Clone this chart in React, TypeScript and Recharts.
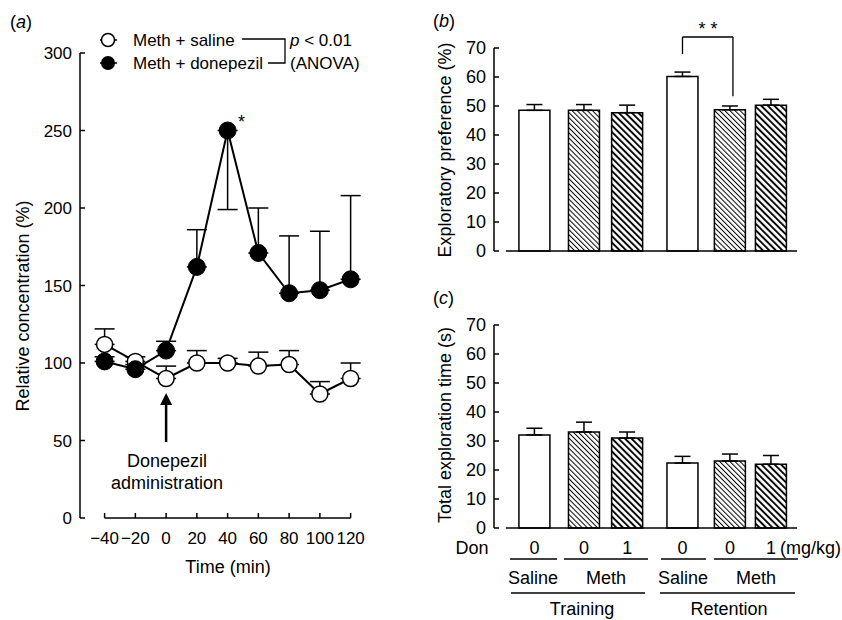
import React from 'react';
import { Bar, BarChart, Cell, ErrorBar, Line, LineChart, ReferenceDot, ReferenceLine, XAxis, YAxis } from 'recharts';

const FONT = '"Liberation Sans", Arial, Helvetica, sans-serif';
const FS = 18;
const TICK_FS = 17;

// (a) time course
const times = [-40, -20, 0, 20, 40, 60, 80, 100, 120];
const salineMean = [112, 101, 90, 100, 100, 98, 99, 80, 90];
const salineErrUp = [10, 3, 8, 8, 3, 9, 9, 8, 10];
const donepezilMean = [101, 96, 108, 162, 250, 171, 145, 147, 154];
const donepezilErrUp = [3, 3, 6, 24, 0, 29, 37, 38, 54];
const donepezilErrDown = [0, 0, 0, 0, 51, 0, 0, 0, 0];
const concTicks = [0, 50, 100, 150, 200, 250, 300];
const seriesNames = ['Meth + saline', 'Meth + donepezil'];

// (b), (c) bars
const barGroups = ['Saline', 'Meth', 'Meth', 'Saline', 'Meth', 'Meth'];
const barDoses = ['0', '0', '1', '0', '0', '1'];
const prefMean = [48.5, 48.5, 47.7, 60.2, 48.7, 50.3];
const prefErr = [2.0, 2.0, 2.6, 1.5, 1.3, 2.0];
const exploreMean = [32.1, 33.1, 31.0, 22.4, 23.1, 22.0];
const exploreErr = [2.3, 3.4, 2.1, 2.3, 2.4, 3.0];
const barTicks = [0, 10, 20, 30, 40, 50, 60, 70];

// layout: where each bar sits on the 0..10 x range
const slots = [1.33, 2.96, 4.38, 6.2, 7.76, 9.11];

const lineData = times.map((t, i) => ({
  t,
  sal: salineMean[i],
  salErr: [0, salineErrUp[i]],
  don: donepezilMean[i],
  donErr: [donepezilErrDown[i], donepezilErrUp[i]],
}));

const prefData = slots.map((pos, i) => ({ pos, v: prefMean[i], e: [0, prefErr[i]] }));
const exploreData = slots.map((pos, i) => ({ pos, v: exploreMean[i], e: [0, exploreErr[i]] }));

const barFill = (i: number) =>
  barGroups[i] === 'Saline' ? '#fff' : barDoses[i] === '0' ? 'url(#hatchFine)' : 'url(#hatchBold)';

const tickStyle = { fill: '#000', fontSize: TICK_FS, fontFamily: FONT };
const axisStyle = { stroke: '#000', strokeWidth: 1.5 };

const minus = (v: number) => (v < 0 ? `\u2212${-v}` : `${v}`);

function Hatches() {
  return (
    <defs>
      <pattern id="hatchFine" patternUnits="userSpaceOnUse" width={3.6} height={3.6} patternTransform="rotate(-45)">
        <rect width={3.6} height={3.6} fill="#fff" />
        <line x1={0.5} y1={0} x2={0.5} y2={3.6} stroke="#000" strokeWidth={1} />
      </pattern>
      <pattern id="hatchBold" patternUnits="userSpaceOnUse" width={4.6} height={4.6} patternTransform="rotate(-45)">
        <rect width={4.6} height={4.6} fill="#fff" />
        <line x1={1} y1={0} x2={1} y2={4.6} stroke="#000" strokeWidth={1.9} />
      </pattern>
    </defs>
  );
}

function DoseTick(props: any) {
  const { x, y, index } = props;
  const last = index === barDoses.length - 1;
  return (
    <g>
      <text x={x} y={y} dy="0.71em" textAnchor="middle" fontSize={FS} fontFamily={FONT} fill="#000">
        {barDoses[index]}
      </text>
      {last && (
        <text x={x + 9} y={y} dy="0.71em" textAnchor="start" fontSize={FS} fontFamily={FONT} fill="#000">
          (mg/kg)
        </text>
      )}
    </g>
  );
}

function Overlay() {
  const t = { fontSize: FS, fontFamily: FONT, fill: '#000' };
  const lg = { fontSize: 17, fontFamily: FONT, fill: '#000' };
  return (
    <svg width={842} height={620} style={{ position: 'absolute', left: 0, top: 0, pointerEvents: 'none' }}>
      {/* panel letters */}
      <text x={10} y={28} {...t}>(<tspan fontStyle="italic">a</tspan>)</text>
      <text x={433} y={27} {...t}>(<tspan fontStyle="italic">b</tspan>)</text>
      <text x={433} y={304} {...t}>(<tspan fontStyle="italic">c</tspan>)</text>

      {/* legend */}
      <line x1={100} y1={40} x2={117} y2={40} stroke="#000" strokeWidth={1.5} />
      <circle cx={108} cy={40} r={6.5} fill="#fff" stroke="#000" strokeWidth={1.5} />
      <text x={133} y={46} {...lg}>{seriesNames[0]}</text>
      <line x1={100} y1={63} x2={117} y2={63} stroke="#000" strokeWidth={1.5} />
      <circle cx={108} cy={63} r={7} fill="#000" />
      <text x={133} y={69} {...lg}>{seriesNames[1]}</text>
      <polyline points="242,39 285,39 285,63 268,63" fill="none" stroke="#000" strokeWidth={1.3} />
      <text x={290} y={46} {...lg}><tspan fontStyle="italic">p</tspan> &lt; 0.01</text>
      <text x={290} y={69} {...lg}>(ANOVA)</text>

      {/* (a) texts */}
      <text transform="translate(29,306) rotate(-90)" textAnchor="middle" {...t}>Relative concentration (%)</text>
      <text x={228} y={573} textAnchor="middle" {...t}>Time (min)</text>
      <text x={167} y={467} textAnchor="middle" {...t}>Donepezil</text>
      <text x={167} y={489} textAnchor="middle" {...t}>administration</text>

      {/* (b) */}
      <text transform="translate(451,150) rotate(-90)" textAnchor="middle" {...t}>Exploratory preference (%)</text>
      <text x={708} y={35} textAnchor="middle" {...t}>* *</text>

      {/* (c) */}
      <text transform="translate(451,425) rotate(-90)" textAnchor="middle" {...t}>Total exploration time (s)</text>
      <text x={472} y={554} textAnchor="middle" {...t}>Don</text>
      <g stroke="#000" strokeWidth={1.4}>
        <line x1={510} y1={559} x2={557} y2={559} />
        <line x1={564} y1={559} x2={648} y2={559} />
        <line x1={661} y1={559} x2={706} y2={559} />
        <line x1={714} y1={559} x2={798} y2={559} />
        <line x1={511} y1={593} x2={645} y2={593} />
        <line x1={660} y1={593} x2={795} y2={593} />
      </g>
      <text x={533} y={584} textAnchor="middle" {...t}>{barGroups[0]}</text>
      <text x={606} y={584} textAnchor="middle" {...t}>{barGroups[1]}</text>
      <text x={683} y={584} textAnchor="middle" {...t}>{barGroups[3]}</text>
      <text x={756} y={584} textAnchor="middle" {...t}>{barGroups[4]}</text>
      <text x={582} y={615} textAnchor="middle" {...t}>Training</text>
      <text x={729} y={615} textAnchor="middle" {...t}>Retention</text>
    </svg>
  );
}

function PanelA() {
  return (
    <LineChart width={420} height={620} data={lineData} margin={{ top: 53, right: 54, bottom: 0, left: 0 }}>
      <XAxis
        type="number"
        dataKey="t"
        domain={[-56, 130]}
        ticks={times}
        interval={0}
        tickFormatter={minus}
        tickSize={-5}
        tickMargin={19}
        axisLine={false}
        tickLine={axisStyle}
        tick={tickStyle}
        height={102}
      />
      <YAxis
        type="number"
        domain={[0, 300]}
        ticks={concTicks}
        interval={0}
        width={80}
        tickSize={-5}
        tickMargin={13}
        axisLine={axisStyle}
        tickLine={axisStyle}
        tick={tickStyle}
      />
      <ReferenceLine segment={[{ x: -40, y: 0 }, { x: 120, y: 0 }]} stroke="#000" strokeWidth={1.5} />
      <ReferenceLine segment={[{ x: 0, y: 49 }, { x: 0, y: 76 }]} stroke="#000" strokeWidth={2.5} />
      <ReferenceDot
        x={0}
        y={80.6}
        shape={(p: any) => <path d={`M${p.cx},${p.cy} l-6,12 l12,0 z`} fill="#000" />}
      />
      <Line
        dataKey="sal"
        stroke="#000"
        strokeWidth={2}
        dot={{ r: 8, fill: '#fff', stroke: '#000', strokeWidth: 1.5 }}
        activeDot={false}
        isAnimationActive={false}
      >
        <ErrorBar dataKey="salErr" direction="y" width={10} stroke="#000" strokeWidth={1.5} />
      </Line>
      <Line
        dataKey="don"
        stroke="#000"
        strokeWidth={2}
        dot={{ r: 8.5, fill: '#000', stroke: '#000', strokeWidth: 1 }}
        activeDot={false}
        isAnimationActive={false}
      >
        <ErrorBar dataKey="donErr" direction="y" width={10} stroke="#000" strokeWidth={1.5} />
      </Line>
      <ReferenceDot
        x={40}
        y={250}
        shape={(p: any) => (
          <text x={p.cx + 14} y={p.cy - 3} textAnchor="middle" fontSize={FS} fontFamily={FONT} fill="#000">*</text>
        )}
      />
    </LineChart>
  );
}

function PanelB() {
  return (
    <BarChart width={422} height={300} data={prefData} margin={{ top: 48, right: 44, bottom: 49, left: 0 }}>
      <Hatches />
      <XAxis type="number" dataKey="pos" domain={[0, 10]} hide />
      <YAxis
        type="number"
        domain={[0, 70]}
        ticks={barTicks}
        interval={0}
        width={74}
        tickSize={-5}
        tickMargin={13}
        axisLine={axisStyle}
        tickLine={axisStyle}
        tick={{ ...tickStyle, fontSize: FS }}
      />
      <ReferenceLine segment={[{ x: 0.39, y: 0 }, { x: 9.97, y: 0 }]} stroke="#000" strokeWidth={1.5} />
      <Bar dataKey="v" barSize={31} stroke="#000" strokeWidth={1.5} isAnimationActive={false}>
        {prefData.map((d, i) => (
          <Cell key={`p-${i}`} fill={barFill(i)} />
        ))}
        <ErrorBar dataKey="e" direction="y" width={8} stroke="#000" strokeWidth={1.5} />
      </Bar>
      <ReferenceLine ifOverflow="visible" segment={[{ x: 6.2, y: 67.9 }, { x: 6.2, y: 73.8 }]} stroke="#000" strokeWidth={1.3} />
      <ReferenceLine ifOverflow="visible" segment={[{ x: 6.2, y: 73.8 }, { x: 7.86, y: 73.8 }]} stroke="#000" strokeWidth={1.3} />
      <ReferenceLine ifOverflow="visible" segment={[{ x: 7.86, y: 73.8 }, { x: 7.86, y: 53.4 }]} stroke="#000" strokeWidth={1.3} />
    </BarChart>
  );
}

function PanelC() {
  return (
    <BarChart width={422} height={320} data={exploreData} margin={{ top: 25, right: 44, bottom: 0, left: 0 }}>
      <Hatches />
      <XAxis
        type="number"
        dataKey="pos"
        domain={[0, 10]}
        ticks={slots}
        interval={0}
        tick={<DoseTick />}
        tickLine={false}
        axisLine={false}
        tickSize={0}
        tickMargin={13}
        height={92}
      />
      <YAxis
        type="number"
        domain={[0, 70]}
        ticks={barTicks}
        interval={0}
        width={74}
        tickSize={-5}
        tickMargin={13}
        axisLine={axisStyle}
        tickLine={axisStyle}
        tick={{ ...tickStyle, fontSize: FS }}
      />
      <ReferenceLine segment={[{ x: 0.39, y: 0 }, { x: 9.97, y: 0 }]} stroke="#000" strokeWidth={1.5} />
      <Bar dataKey="v" barSize={31} stroke="#000" strokeWidth={1.5} isAnimationActive={false}>
        {exploreData.map((d, i) => (
          <Cell key={`c-${i}`} fill={barFill(i)} />
        ))}
        <ErrorBar dataKey="e" direction="y" width={8} stroke="#000" strokeWidth={1.5} />
      </Bar>
    </BarChart>
  );
}

export default function App() {
  return (
    <div style={{ position: 'absolute', left: 0, top: 0, width: 842, height: 620, background: '#fff', fontFamily: FONT }}>
      <div style={{ position: 'absolute', left: 0, top: 0 }}>
        <PanelA />
      </div>
      <div style={{ position: 'absolute', left: 420, top: 0 }}>
        <PanelB />
      </div>
      <div style={{ position: 'absolute', left: 420, top: 300 }}>
        <PanelC />
      </div>
      <Overlay />
    </div>
  );
}
